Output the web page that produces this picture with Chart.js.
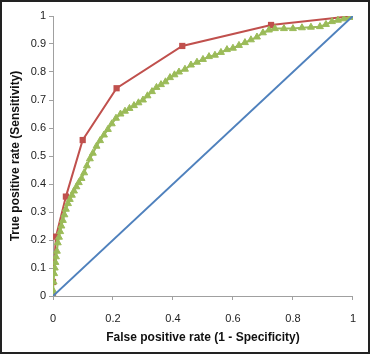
<!DOCTYPE html>
<html>
<head>
<meta charset="utf-8">
<script src="https://cdn.jsdelivr.net/npm/chart.js@4/dist/chart.umd.min.js"></script>
<style>
    html, body { margin: 0; padding: 0; background: #fff; }
    #frame {
        width: 370px; height: 354px; box-sizing: border-box;
        border: 2px solid #222; background: #fff;
    }
</style>
</head>
<body>
<div id="frame"><canvas id="rocChart" width="366" height="350"></canvas></div>
<script>
// 参考线 (随机分类)
const refFpr = [0, 1];
const refTpr = [0, 1];

// 红色曲线 (方块)
const redFpr = [0, 0, 0.01, 0.043, 0.099, 0.212, 0.431, 0.727, 1];
const redTpr = [0, 0.05, 0.212, 0.355, 0.557, 0.742, 0.893, 0.968, 1];

// 绿色曲线 (三角)
const greenFpr = [
    0, 0, 0.002, 0.004, 0.006, 0.008, 0.01, 0.013, 0.016, 0.02,
    0.024, 0.028, 0.033, 0.038, 0.043, 0.05, 0.056, 0.063, 0.07, 0.078,
    0.086, 0.095, 0.104, 0.113, 0.123, 0.133, 0.145, 0.157, 0.17, 0.183,
    0.196, 0.21, 0.225, 0.24, 0.255, 0.27, 0.285, 0.3, 0.315, 0.33,
    0.345, 0.36, 0.375, 0.39, 0.405, 0.42, 0.44, 0.46, 0.48, 0.5,
    0.52, 0.54, 0.56, 0.58, 0.6, 0.62, 0.64, 0.66, 0.68, 0.7,
    0.72, 0.74, 0.77, 0.8, 0.83, 0.86, 0.89, 0.91, 0.93, 0.95,
    0.97, 0.99, 1
];
const greenTpr = [
    0, 0.02, 0.05, 0.08, 0.1, 0.12, 0.14, 0.16, 0.19, 0.21,
    0.23, 0.25, 0.27, 0.29, 0.31, 0.33, 0.345, 0.36, 0.375, 0.39,
    0.405, 0.42, 0.44, 0.465, 0.49, 0.51, 0.535, 0.555, 0.575, 0.595,
    0.615, 0.635, 0.65, 0.66, 0.67, 0.68, 0.69, 0.7, 0.715, 0.73,
    0.745, 0.755, 0.765, 0.78, 0.79, 0.8, 0.81, 0.825, 0.835, 0.845,
    0.855, 0.86, 0.87, 0.88, 0.885, 0.895, 0.905, 0.915, 0.925, 0.94,
    0.95, 0.955, 0.955, 0.955, 0.958, 0.96, 0.962, 0.97, 0.98, 0.985,
    0.99, 0.995, 1
];

const xTitle = 'False positive rate (1 - Specificity)';
const yTitle = 'True positive rate (Sensitivity)';

function toPoints(xs, ys) {
    return xs.map((x, i) => ({ x: x, y: ys[i] }));
}

// 刻度标签去掉多余的零: 1.0 -> 1
function shortLabel(value) {
    return String(Number(value.toFixed(2)));
}

function createRocChart(canvasId) {
    const ctx = document.getElementById(canvasId).getContext('2d');
    const tickFont = { family: 'Liberation Sans, Arial, sans-serif', size: 11 };
    const titleFont = { family: 'Liberation Sans, Arial, sans-serif', size: 12, weight: 'bold' };
    return new Chart(ctx, {
        type: 'line',
        data: {
            datasets: [{
                label: 'reference',
                data: toPoints(refFpr, refTpr),
                borderColor: '#4F81BD',
                borderWidth: 2,
                pointRadius: 0
            }, {
                label: 'green',
                data: toPoints(greenFpr, greenTpr),
                borderColor: '#9BBB59',
                backgroundColor: '#9BBB59',
                borderWidth: 2,
                pointStyle: 'triangle',
                pointRadius: 4,
                pointBorderWidth: 1
            }, {
                label: 'red',
                data: toPoints(redFpr, redTpr),
                borderColor: '#C0504D',
                backgroundColor: '#C0504D',
                borderWidth: 2,
                pointStyle: 'rect',
                pointRadius: 4.4,
                pointBorderWidth: 0
            }]
        },
        options: {
            responsive: false,
            animation: false,
            layout: { padding: { left: 0, right: 10, top: 14, bottom: 0 } },
            scales: {
                x: {
                    type: 'linear',
                    min: 0,
                    max: 1,
                    afterFit: function(scale) { scale.height = 56; },
                    ticks: { stepSize: 0.2, color: '#222', font: tickFont, padding: 12, callback: shortLabel },
                    grid: { display: true, drawOnChartArea: false, tickLength: 4, color: '#A0A0A0' },
                    border: { color: '#A0A0A0' },
                    title: { display: true, text: xTitle, color: '#111', font: titleFont, padding: { top: 0, bottom: 7 } }
                },
                y: {
                    min: 0,
                    max: 1,
                    afterFit: function(scale) { scale.width = 51; },
                    ticks: { stepSize: 0.1, color: '#222', font: tickFont, padding: 3, callback: shortLabel },
                    grid: { display: true, drawOnChartArea: false, tickLength: 4, color: '#A0A0A0' },
                    border: { color: '#A0A0A0' },
                    title: { display: true, text: yTitle, color: '#111', font: titleFont, padding: { top: 6, bottom: 0 } }
                }
            },
            plugins: {
                legend: { display: false },
                tooltip: { enabled: false }
            }
        }
    });
}

document.addEventListener('DOMContentLoaded', function() {
    createRocChart('rocChart');
});
</script>
</body>
</html>
